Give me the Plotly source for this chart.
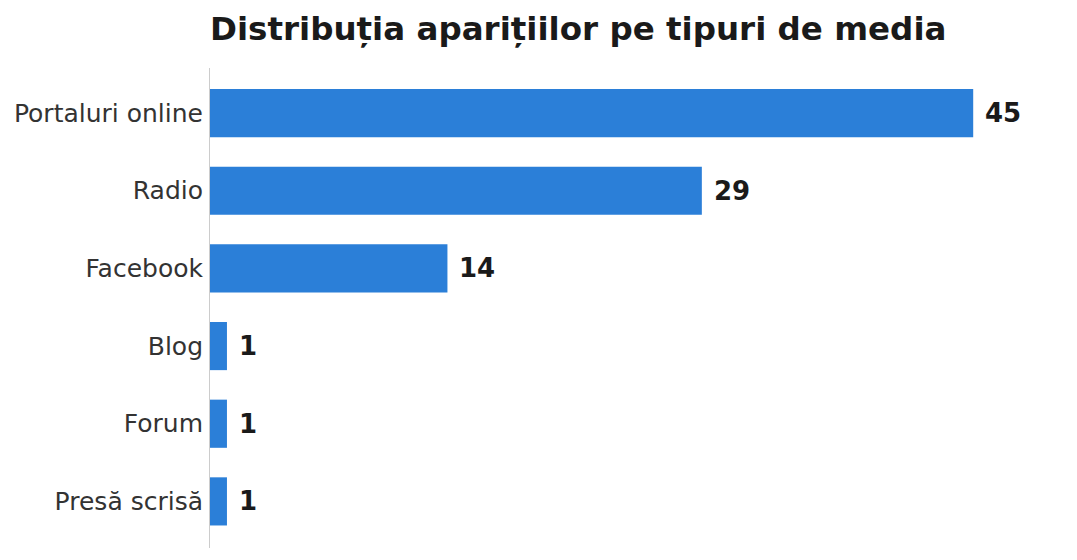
import plotly.graph_objects as go

categories = ["Portaluri online", "Radio", "Facebook", "Blog", "Forum", "Presă scrisă"]
counts = [45, 29, 14, 1, 1, 1]

title_text = "Distribuția aparițiilor pe tipuri de media"

fig = go.Figure()
fig.add_trace(
    go.Bar(
        x=counts,
        y=categories,
        orientation="h",
        width=0.62,
        marker=dict(color="#2B7FD8", line=dict(width=0)),
        hoverinfo="x+y",
    )
)

# value labels just past the end of each bar
for cat, val in zip(categories, counts):
    fig.add_annotation(
        x=val,
        y=cat,
        text="<b>%d</b>" % val,
        showarrow=False,
        xanchor="left",
        xshift=10,
        font=dict(family="DejaVu Sans", size=26, color="#1a1a1a"),
    )

fig.update_layout(
    width=1077,
    height=560,
    margin=dict(l=202, r=27, t=60, b=20, autoexpand=False),
    plot_bgcolor="white",
    paper_bgcolor="white",
    showlegend=False,
    title=dict(
        text="<b>%s</b>" % title_text,
        x=202 / 1077,
        xref="container",
        xanchor="left",
        y=1 - 21 / 560,
        yanchor="middle",
        font=dict(family="DejaVu Sans", size=32.5, color="#1a1a1a"),
    ),
    font=dict(family="DejaVu Sans"),
)

fig.update_xaxes(range=[0, 50], visible=False, showgrid=False, zeroline=False)
fig.update_yaxes(
    autorange=False,
    automargin=False,
    range=[5.6, -0.58],
    categoryorder="array",
    categoryarray=categories,
    showline=True,
    linecolor="#cccccc",
    linewidth=1,
    showgrid=False,
    ticks="",
    ticklabelstandoff=1,
    tickfont=dict(family="DejaVu Sans", size=25, color="#333333"),
)

fig.write_html("out.html")
